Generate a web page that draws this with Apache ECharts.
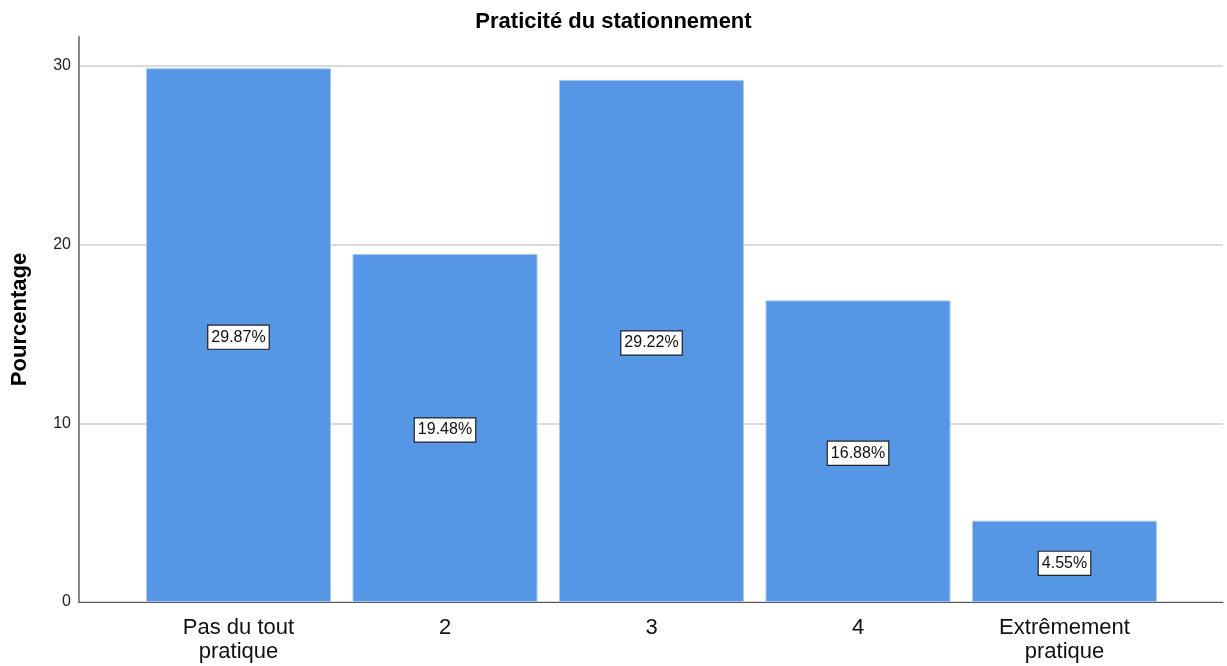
<!DOCTYPE html>
<html>
<head>
<meta charset="utf-8">
<script src="https://cdn.jsdelivr.net/npm/echarts@6/dist/echarts.min.js"></script>
<style>
  html, body { margin: 0; padding: 0; background: #fff; }
  #main { width: 1227px; height: 666px; }
</style>
</head>
<body>
<div id="main"></div>
<script>
var categories = ['Pas du tout\npratique', '2', '3', '4', 'Extrêmement\npratique'];
var percents = [29.87, 19.48, 29.22, 16.88, 4.55];
var yTicks = [0, 10, 20, 30];

var font = 'Liberation Sans, Arial, sans-serif';
var yMax = 31.62;

var chart = echarts.init(document.getElementById('main'));
var option = {
  animation: false,
  backgroundColor: '#fff',
  title: {
    text: 'Praticité du stationnement',
    left: 'center',
    top: 6,
    textStyle: { fontFamily: font, fontSize: 22, fontWeight: 'bold', color: '#000' }
  },
  grid: [
    // axes frame
    { left: 79, right: 4, top: 37, bottom: 64 },
    // bars
    { left: 135.25, right: 59.25, top: 37, bottom: 64 }
  ],
  xAxis: [
    {
      gridIndex: 0, type: 'value', min: 0, max: 1,
      axisLine: { show: true, lineStyle: { color: '#555', width: 1 } },
      axisTick: { show: false }, axisLabel: { show: false }, splitLine: { show: false }
    },
    {
      gridIndex: 1, type: 'category', data: categories,
      axisLine: { show: false }, axisTick: { show: false },
      axisLabel: { fontFamily: font, fontSize: 22, color: '#111', margin: 14, lineHeight: 24 }
    }
  ],
  yAxis: [
    {
      gridIndex: 0, type: 'value', min: 0, max: yMax, interval: 10,
      name: 'Pourcentage', nameLocation: 'middle', nameGap: 48,
      nameTextStyle: { fontFamily: font, fontSize: 22, fontWeight: 'bold', color: '#000' },
      axisLine: { show: true, lineStyle: { color: '#888', width: 2 } },
      axisTick: { show: false },
      axisLabel: {
        fontFamily: font, fontSize: 16, color: '#222', margin: 8,
        formatter: function (v) { return yTicks.indexOf(v) >= 0 ? String(v) : ''; }
      },
      splitLine: { show: true, showMaxLine: false, lineStyle: { color: '#cfcfcf', width: 1.5 } }
    },
    {
      gridIndex: 1, type: 'value', min: 0, max: yMax,
      axisLine: { show: false }, axisTick: { show: false }, axisLabel: { show: false }, splitLine: { show: false }
    }
  ],
  series: [{
    type: 'bar',
    xAxisIndex: 1, yAxisIndex: 1,
    data: percents,
    barWidth: 185,
    itemStyle: { color: '#5597e4', borderColor: '#a9c9f1', borderWidth: 1 },
    label: {
      show: true,
      position: 'inside',
      offset: [0, 2],
      formatter: function (p) { return p.value.toFixed(2) + '%'; },
      fontFamily: font, fontSize: 16, color: '#111',
      backgroundColor: '#fff', borderColor: '#222', borderWidth: 1.2,
      padding: [4, 3, 3, 3]
    }
  }]
};
chart.setOption(option);
</script>
</body>
</html>
